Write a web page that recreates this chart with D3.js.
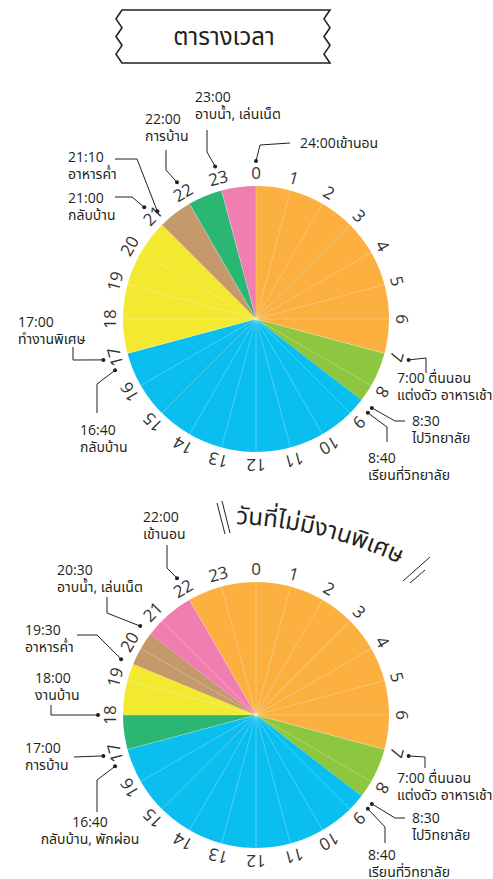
<!DOCTYPE html>
<html>
<head>
<meta charset="utf-8">
<script src="https://cdn.jsdelivr.net/npm/d3@7"></script>
<style>
  body { margin: 0; background: #fff; }
  svg { display: block; }
  text { font-family: Tahoma, "Open Sans", "Noto Sans Thai", sans-serif; fill: #231f20; }
</style>
</head>
<body>
<div id="chart"></div>
<script>
// ---- data ----
var hours = d3.range(24);

var topStart = [0, 7, 8.5, 17, 21, 22, 23];
var topEnd   = [7, 8.5, 17, 21, 22, 23, 24];
var topColor = ['#FBB040', '#8DC63F', '#0BBEF0', '#F2E930', '#C49A6C', '#2BB673', '#F07EB0'];

var botStart = [22, 7, 8.5, 17, 18, 19.5, 20.5];
var botEnd   = [31, 8.5, 17, 18, 19.5, 20.5, 22];
var botColor = ['#FBB040', '#8DC63F', '#0BBEF0', '#2BB673', '#F2E930', '#C49A6C', '#F07EB0'];

var topNoteHour = [24, 23, 22, 21 + 1 / 6, 21, 17, 16 + 2 / 3, 7, 8.5, 8 + 2 / 3];
var topNoteText = [
  ['24:00เข้านอน'],
  ['23:00', 'อาบน้ำ, เล่นเน็ต'],
  ['22:00', 'การบ้าน'],
  ['21:10', 'อาหารค่ำ'],
  ['21:00', 'กลับบ้าน'],
  ['17:00', 'ทำงานพิเศษ'],
  ['16:40', 'กลับบ้าน'],
  ['7:00 ตื่นนอน', 'แต่งตัว อาหารเช้า'],
  ['8:30', 'ไปวิทยาลัย'],
  ['8:40', 'เรียนที่วิทยาลัย']
];

var botNoteHour = [22, 20.5, 19.5, 18, 17, 16 + 2 / 3, 7, 8.5, 8 + 2 / 3];
var botNoteText = [
  ['22:00', 'เข้านอน'],
  ['20:30', 'อาบน้ำ, เล่นเน็ต'],
  ['19:30', 'อาหารค่ำ'],
  ['18:00', 'งานบ้าน'],
  ['17:00', 'การบ้าน'],
  ['16:40', 'กลับบ้าน, พักผ่อน'],
  ['7:00 ตื่นนอน', 'แต่งตัว อาหารเช้า'],
  ['8:30', 'ไปวิทยาลัย'],
  ['8:40', 'เรียนที่วิทยาลัย']
];

var titleText = 'ตารางเวลา';
var subTitleText = 'วันที่ไม่มีงานพิเศษ';

// ---- layout (leader elbows and label anchors) ----
var topLayout = [
  { r: 158, pts: [[260, 145], [290, 143]], x: 300, y: 148, a: 'start' },
  { r: 158, pts: [[207, 152], [207, 130]], x: 195, y: 102, a: 'start' },
  { r: 158, pts: [[166, 170], [166, 150]], x: 145, y: 124, a: 'start' },
  { r: 146, pts: [[137, 159], [115, 159]], x: 68,  y: 162, a: 'start' },
  { r: 158, pts: [[132, 197], [115, 197]], x: 68,  y: 203, a: 'start' },
  { r: 158, pts: [[73, 360], [73, 347]],   x: 18,  y: 327, a: 'start' },
  { r: 150, pts: [[97, 384], [97, 413]],   x: 80,  y: 435, a: 'start' },
  { r: 158, pts: [[426, 358], [426, 373]], x: 397, y: 383, a: 'start' },
  { r: 146, pts: [[395, 421], [405, 421]], x: 412, y: 426, a: 'start' },
  { r: 146, pts: [[387, 427], [387, 442]], x: 368, y: 463, a: 'start' }
];
var botLayout = [
  { r: 158, pts: [[167, 568], [167, 545]], x: 143, y: 522, a: 'start' },
  { r: 146, pts: [[107, 613], [107, 597]], x: 57,  y: 575, a: 'start' },
  { r: 146, pts: [[97, 635], [77, 635]],   x: 25,  y: 635, a: 'start' },
  { r: 158, pts: [[51, 715], [51, 705]],   x: 35,  y: 683, a: 'start' },
  { r: 158, pts: [[74, 757]],              x: 25,  y: 753, a: 'start' },
  { r: 150, pts: [[97, 780], [97, 812]],   x: 90,  y: 827, a: 'middle' },
  { r: 158, pts: [[425, 757], [425, 768]], x: 397, y: 783, a: 'start' },
  { r: 146, pts: [[395, 818], [405, 818]], x: 412, y: 823, a: 'start' },
  { r: 146, pts: [[385, 827], [385, 843]], x: 368, y: 860, a: 'start' }
];

var width = 493, height = 879;
var R = 133;

var svg = d3.select('#chart').append('svg')
  .attr('width', width)
  .attr('height', height);

var angle = d3.scaleLinear().domain([0, 24]).range([0, 2 * Math.PI]);

// ---- title box with zigzag ends ----
function zig(x, y0, y1, amp, n) {
  return d3.range(n + 1).map(function (i) {
    return [x + (i % 2 ? amp : 0), y0 + (y1 - y0) * i / n];
  });
}
var boxL = 122, boxR = 330, boxT = 10, boxB = 63;
var boxPts = [[boxL, boxT]]
  .concat(zig(boxR, boxT, boxB, -6, 6))
  .concat(zig(boxL, boxB, boxT, -6, 6));
svg.append('path')
  .attr('d', d3.line()(boxPts) + 'Z')
  .attr('fill', '#fff')
  .attr('stroke', '#231f20')
  .attr('stroke-width', 1.6)
  .attr('stroke-linejoin', 'miter');
svg.append('text')
  .attr('x', 224)
  .attr('y', 37)
  .attr('dy', '0.35em')
  .attr('text-anchor', 'middle')
  .style('font-size', '24px')
  .text(titleText);

// ---- clock pies ----
function drawClock(cx, cy, starts, ends, colors, noteHour, noteText, layout) {
  var g = svg.append('g').attr('transform', 'translate(' + cx + ',' + cy + ')');
  var arc = d3.arc().innerRadius(0).outerRadius(R);

  g.selectAll('path.slice')
    .data(starts)
    .enter()
    .append('path')
    .attr('class', 'slice')
    .attr('d', function (d, i) {
      return arc({ startAngle: angle(d), endAngle: angle(ends[i]) });
    })
    .attr('fill', function (d, i) { return colors[i]; });

  // faint hour separators
  g.selectAll('line.hr')
    .data(hours)
    .enter()
    .append('line')
    .attr('class', 'hr')
    .attr('x1', 0).attr('y1', 0)
    .attr('x2', function (h) { return R * Math.sin(angle(h)); })
    .attr('y2', function (h) { return -R * Math.cos(angle(h)); })
    .attr('stroke', '#fff')
    .attr('stroke-opacity', 0.45)
    .attr('stroke-width', 0.6);

  // hour numbers
  g.selectAll('text.hour')
    .data(hours)
    .enter()
    .append('text')
    .attr('class', 'hour')
    .attr('transform', function (h) {
      var a = angle(h);
      return 'translate(' + (146 * Math.sin(a)) + ',' + (-146 * Math.cos(a)) + ') rotate(' + (a * 180 / Math.PI) + ')';
    })
    .attr('text-anchor', 'middle')
    .attr('dy', '0.36em')
    .style('font-size', '17px')
    .style('fill', '#333')
    .text(function (h) { return h; });

  // annotations
  noteHour.forEach(function (h, i) {
    var L = layout[i];
    var a = angle(h);
    var dot = [cx + L.r * Math.sin(a), cy - L.r * Math.cos(a)];
    svg.append('path')
      .attr('d', d3.line()([dot].concat(L.pts)))
      .attr('fill', 'none')
      .attr('stroke', '#231f20')
      .attr('stroke-width', 1);
    svg.append('circle')
      .attr('cx', dot[0]).attr('cy', dot[1])
      .attr('r', 2)
      .attr('fill', '#231f20');
    var t = svg.append('text')
      .attr('x', L.x)
      .attr('y', L.y)
      .attr('text-anchor', L.a)
      .style('font-size', '14px');
    noteText[i].forEach(function (line, j) {
      t.append('tspan')
        .attr('x', L.x)
        .attr('dy', j === 0 ? 0 : 16.5)
        .text(line);
    });
  });
}

drawClock(256, 319, topStart, topEnd, topColor, topNoteHour, topNoteText, topLayout);
drawClock(256, 715, botStart, botEnd, botColor, botNoteHour, botNoteText, botLayout);

// ---- curved subtitle with slashes ----
svg.append('path')
  .attr('id', 'subArc')
  .attr('d', 'M 236 524 A 420 420 0 0 1 430 580')
  .attr('fill', 'none');
svg.append('text')
  .style('font-size', '24px')
  .append('textPath')
  .attr('href', '#subArc')
  .text(subTitleText);

var slashes = [
  [[217, 503], [225, 534]],
  [[222, 501], [230, 533]],
  [[403, 581], [430, 557]],
  [[410, 583], [425, 570]]
];
svg.selectAll('line.slash')
  .data(slashes)
  .enter()
  .append('line')
  .attr('class', 'slash')
  .attr('x1', function (d) { return d[0][0]; })
  .attr('y1', function (d) { return d[0][1]; })
  .attr('x2', function (d) { return d[1][0]; })
  .attr('y2', function (d) { return d[1][1]; })
  .attr('stroke', '#231f20')
  .attr('stroke-width', 1);
</script>
</body>
</html>
